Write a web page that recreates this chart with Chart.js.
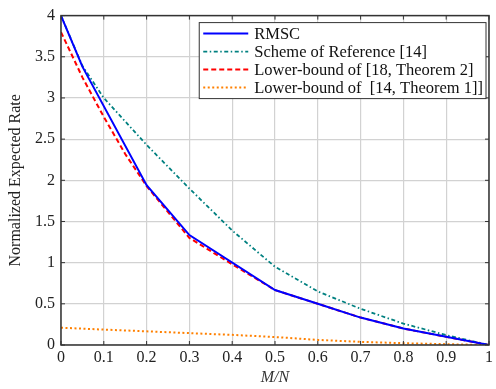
<!DOCTYPE html>
<html>
<head>
<meta charset="utf-8">
<script src="https://cdn.jsdelivr.net/npm/chart.js@4/dist/chart.umd.min.js"></script>
<style>
  html, body { margin: 0; padding: 0; background: #fff; }
  #wrap { width: 496px; height: 389px; }
</style>
</head>
<body>
<div id="wrap"><canvas id="rateChart" width="496" height="389"></canvas></div>
<script>
// series (x = M/N, y = normalized expected rate)
const rmscX = [0, 0.05, 0.2, 0.3, 0.5, 0.6, 0.7, 0.8, 0.9, 1];
const rmscY = [4, 3.38, 1.94, 1.335, 0.667, 0.5, 0.333, 0.2, 0.1, 0];

const refX = [0, 0.05, 0.1, 0.2, 0.3, 0.4, 0.5, 0.6, 0.7, 0.8, 0.9, 1];
const refY = [4, 3.39, 3.0, 2.43, 1.9, 1.39, 0.95, 0.65, 0.44, 0.26, 0.12, 0];

const lb18X = [0, 0.05, 0.1, 0.15, 0.2, 0.3, 0.4, 0.5, 0.6, 0.7, 0.8, 0.9, 1];
const lb18Y = [3.8, 3.25, 2.77, 2.32, 1.93, 1.3, 0.98, 0.667, 0.5, 0.333, 0.2, 0.1, 0];

const lb14X = [0, 0.1, 0.2, 0.3, 0.4, 0.5, 0.6, 0.7, 0.8, 0.9, 1];
const lb14Y = [0.21, 0.187, 0.166, 0.144, 0.123, 0.097, 0.062, 0.038, 0.022, 0.01, 0];

const seriesNames = ['RMSC', 'Scheme of Reference [14]', 'Lower-bound of [18, Theorem 2]', 'Lower-bound of  [14, Theorem 1]]'];

const xTicks = [0, 0.1, 0.2, 0.3, 0.4, 0.5, 0.6, 0.7, 0.8, 0.9, 1];
const yTicks = [0, 0.5, 1, 1.5, 2, 2.5, 3, 3.5, 4];

const serif = "'Liberation Serif', 'DejaVu Serif', serif";

function pts(xs, ys) {
    return xs.map((x, i) => ({ x: x, y: ys[i] }));
}

// frame, inner tick marks and the boxed legend inside the plot
const framePlugin = {
    id: 'frame',
    afterDatasetsDraw(chart) {
        const ctx = chart.ctx;
        const a = chart.chartArea;
        const xs = chart.scales.x, ys = chart.scales.y;
        ctx.save();
        ctx.strokeStyle = '#333';
        ctx.lineWidth = 1;
        xTicks.forEach(v => {
            const px = xs.getPixelForValue(v);
            ctx.beginPath();
            ctx.moveTo(px, a.bottom); ctx.lineTo(px, a.bottom - 4);
            ctx.moveTo(px, a.top); ctx.lineTo(px, a.top + 4);
            ctx.stroke();
        });
        yTicks.forEach(v => {
            const py = ys.getPixelForValue(v);
            ctx.beginPath();
            ctx.moveTo(a.left, py); ctx.lineTo(a.left + 4, py);
            ctx.moveTo(a.right, py); ctx.lineTo(a.right - 4, py);
            ctx.stroke();
        });
        ctx.lineWidth = 1.5;
        ctx.strokeRect(a.left, a.top, a.right - a.left, a.bottom - a.top);

        // legend
        ctx.font = '16.5px ' + serif;
        const textW = Math.max(...seriesNames.map(s => ctx.measureText(s).width));
        const sampleW = 45, rowH = 18;
        const boxW = 4 + sampleW + 6 + textW + 3;
        const boxH = rowH * seriesNames.length + 4;
        const bx = a.right - 3 - boxW, by = a.top + 7;
        ctx.fillStyle = '#fff';
        ctx.fillRect(bx, by, boxW, boxH);
        ctx.lineWidth = 1;
        ctx.strokeStyle = '#333';
        ctx.strokeRect(bx, by, boxW, boxH);
        chart.data.datasets.forEach((ds, i) => {
            const cy = by + 2 + rowH * i + rowH / 2;
            ctx.beginPath();
            ctx.strokeStyle = ds.borderColor;
            ctx.lineWidth = ds.borderWidth;
            ctx.setLineDash(ds.borderDash || []);
            ctx.moveTo(bx + 4, cy);
            ctx.lineTo(bx + 4 + sampleW, cy);
            ctx.stroke();
            ctx.setLineDash([]);
            ctx.fillStyle = '#111';
            ctx.textBaseline = 'middle';
            ctx.textAlign = 'left';
            ctx.fillText(ds.label, bx + 4 + sampleW + 6, cy + 1);
        });
        ctx.restore();
    }
};

const ctx = document.getElementById('rateChart').getContext('2d');
const rateChart = new Chart(ctx, {
    type: 'line',
    data: {
        datasets: [{
            label: seriesNames[0],
            data: pts(rmscX, rmscY),
            borderColor: '#0000ff',
            borderWidth: 2,
            pointRadius: 0
        }, {
            label: seriesNames[1],
            data: pts(refX, refY),
            borderColor: '#008080',
            borderWidth: 1.8,
            borderDash: [4, 2.5, 1.5, 2.5],
            pointRadius: 0
        }, {
            label: seriesNames[2],
            data: pts(lb18X, lb18Y),
            borderColor: '#ff0000',
            borderWidth: 2,
            borderDash: [5, 3],
            pointRadius: 0
        }, {
            label: seriesNames[3],
            data: pts(lb14X, lb14Y),
            borderColor: '#ff8000',
            borderWidth: 2,
            borderDash: [2, 2.5],
            pointRadius: 0
        }]
    },
    options: {
        responsive: false,
        animation: false,
        layout: { padding: { top: 9, right: 4, left: 0, bottom: 0 } },
        plugins: {
            legend: { display: false },
            tooltip: { enabled: false }
        },
        scales: {
            x: {
                type: 'linear',
                min: 0,
                max: 1,
                afterBuildTicks: s => { s.ticks = xTicks.map(v => ({ value: v })); },
                afterFit: s => { s.height = 44; },
                grid: { color: '#d2d2d2', lineWidth: 1.2, drawTicks: false },
                border: { display: false },
                ticks: {
                    padding: 3,
                    color: '#222',
                    font: { family: serif, size: 16 },
                    maxRotation: 0,
                    callback: v => String(+v.toFixed(2))
                },
                title: {
                    display: true,
                    text: 'M/N',
                    color: '#333',
                    font: { family: serif, size: 16, style: 'italic' },
                    padding: { top: 0, bottom: 2 }
                }
            },
            y: {
                type: 'linear',
                min: 0,
                max: 4,
                afterBuildTicks: s => { s.ticks = yTicks.map(v => ({ value: v })); },
                afterFit: s => { s.width = 61; },
                grid: { color: '#d2d2d2', lineWidth: 1.2, drawTicks: false },
                border: { display: false },
                ticks: {
                    padding: 6,
                    color: '#222',
                    font: { family: serif, size: 16 },
                    callback: v => String(+v.toFixed(2))
                },
                title: {
                    display: true,
                    text: 'Normalized Expected Rate',
                    color: '#222',
                    font: { family: serif, size: 16 },
                    padding: { top: 6, bottom: 0 }
                }
            }
        }
    },
    plugins: [framePlugin]
});
</script>
</body>
</html>
